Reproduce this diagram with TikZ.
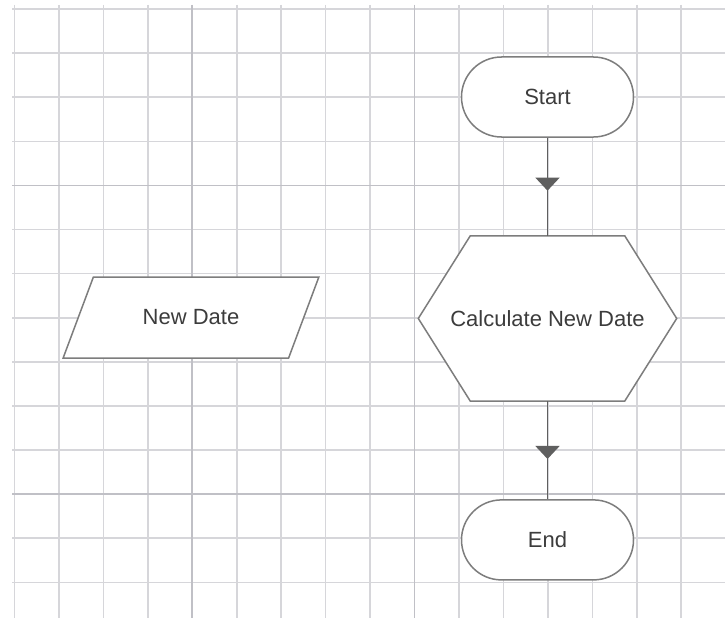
\documentclass[tikz,border=0pt]{standalone}
\usepackage{fontspec}
\setmainfont{Liberation Sans}
\usetikzlibrary{shapes.geometric, arrows.meta, decorations.markings, backgrounds}
\usetikzlibrary{positioning}
\definecolor{gridgray}{RGB}{214,214,218}
\definecolor{gridmajor}{RGB}{192,192,198}
\definecolor{edgegray}{RGB}{125,125,125}
\definecolor{conngray}{RGB}{95,95,95}
\definecolor{txtgray}{RGB}{60,60,60}
\tikzstyle{terminal} = [rectangle, rounded corners=40pt, minimum width=172pt, minimum
height=80pt, text centered, draw=edgegray, fill=white, line width=1.5pt]
\tikzstyle{io} = [trapezium, trapezium left angle=54, trapezium right angle=126,
trapezium stretches=true, minimum width=256pt, minimum height=81pt, text centered,
draw=edgegray, fill=white, line width=1.5pt]
\tikzstyle{hexbox} = [rectangle, minimum width=258pt, minimum height=165pt, text centered]
\tikzstyle{hexline} = [draw=edgegray, fill=white, line width=1.5pt]
\tikzstyle{gridline} = [draw=gridgray, line width=1.6pt]
\tikzstyle{gridbold} = [draw=gridmajor, line width=1.8pt]
\tikzset{arrow/.style={draw=conngray, line width=1.6pt, postaction={decorate},
decoration={markings, mark=at position #1 with {\arrow{Triangle[width=24pt,length=13pt]}}}},
arrow/.default=0.55}

\begin{document}
\begin{tikzpicture} [x=1pt, y=-1pt, node distance=98pt, text=txtgray,
    font=\fontsize{22pt}{26pt}\selectfont]
    \useasboundingbox (0,0) rectangle (725,618);
    % squared paper
    \begin{scope}[on background layer]
    \fill[white] (0,0) rectangle (725,618);
    \foreach \k in {0,...,15}
        \draw[gridline] ({14.5+44.45*\k},5) -- ({14.5+44.45*\k},618);
    \foreach \k in {0,...,13}
        \draw[gridline] (12,{9+44.1*\k}) -- (725,{9+44.1*\k});
    \foreach \k in {4,9}
        \draw[gridbold] ({14.5+44.45*\k},5) -- ({14.5+44.45*\k},618);
    \foreach \k in {4,11}
        \draw[gridbold] (12,{9+44.1*\k}) -- (725,{9+44.1*\k});
    \end{scope}

    \node (start) [terminal] at (547.5,97) {Start};
    \node (calc) [hexbox, below=of start] {Calculate New Date};
    \node (end) [terminal, below=of calc] {End};
    \node (newdate) [io] at (191,317.5) {New Date};

    \begin{scope}[on background layer]
    \draw[hexline] (calc.west) -- ([xshift=52pt]calc.north west) -- ([xshift=-52pt]calc.north
    east) -- (calc.east) -- ([xshift=-52pt]calc.south east) -- ([xshift=52pt]calc.south west)
    -- cycle;
    \end{scope}

    \draw[arrow=0.54] (start) -- (calc);
    \draw[arrow=0.59] (calc) -- (end);

\end{tikzpicture}
\end{document}
